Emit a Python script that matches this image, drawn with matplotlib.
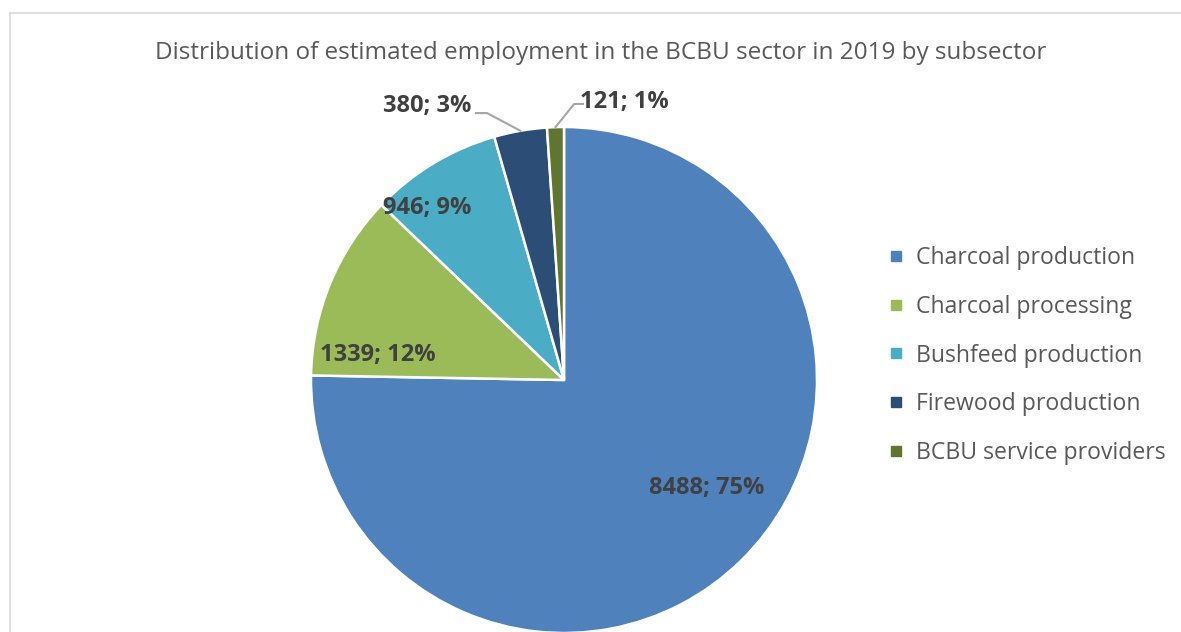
import numpy as np
import matplotlib
matplotlib.use('Agg')
from matplotlib import pyplot as plt
from matplotlib.lines import Line2D

plt.rcParams['font.family'] = ['Open Sans', 'DejaVu Sans']

# data
subsectors = ['Charcoal production', 'Charcoal processing', 'Bushfeed production',
              'Firewood production', 'BCBU service providers']
employment = [8488, 1339, 946, 380, 121]
percent_labels = ['75%', '12%', '9%', '3%', '1%']
colors = ['#4F81BD', '#9BBB59', '#4BACC6', '#2C4D75', '#5F7530']

# label placement (data coords of the pie, radius 1)
label_pos = [(0.565, -0.427), (-0.735, 0.099), (-0.542, 0.680), (-0.542, 1.083), (0.237, 1.099)]
# leader line: (start x, elbow x, elbow y)
leader = [None, None, None, (-0.348, -0.304, 1.055), (0.075, 0.040, 1.091)]

W, H = 1181, 632
fig = plt.figure(figsize=(W / 100, H / 100), dpi=100)

# outer chart border (light gray), only top and left visible
fig.add_artist(Line2D([10 / W, 1.01], [1 - 13 / H] * 2, color='#D9D9D9', lw=1.2))
fig.add_artist(Line2D([10 / W] * 2, [-0.01, 1 - 13 / H], color='#D9D9D9', lw=1.2))

cx, cy, r = 564, 380, 253
ax = fig.add_axes([(cx - r) / W, (H - cy - r) / H, 2 * r / W, 2 * r / H])

wedges, _ = ax.pie(employment, colors=colors, startangle=90, counterclock=False,
                   radius=1, wedgeprops=dict(edgecolor='white', linewidth=1.8))
ax.set_xlim(-1, 1)
ax.set_ylim(-1, 1)
ax.axis('off')

total = sum(employment)
cum = np.cumsum(employment) - np.array(employment) / 2
for i, (v, p) in enumerate(zip(employment, percent_labels)):
    lx, ly = label_pos[i]
    ax.text(lx, ly, f'{v}; {p}', ha='center', va='center', fontsize=17,
            fontweight='bold', color='#404040', clip_on=False)
    if leader[i] is not None:
        ang = np.deg2rad(90 - 360 * cum[i] / total)
        ex, ey = np.cos(ang), np.sin(ang)
        sx, bx, by = leader[i]
        ax.plot([sx, bx, ex], [by, by, ey], color='#A6A6A6', lw=1.5, clip_on=False)

fig.text(0.5 * (152 + 1049) / W, 1 - 53 / H,
         'Distribution of estimated employment in the BCBU sector in 2019 by subsector',
         ha='center', va='center', fontsize=17.5, color='#595959')

handles = [Line2D([], [], marker='s', linestyle='none', markersize=7.5,
                  markerfacecolor=c, markeredgecolor=c) for c in colors]
fig.legend(handles, subsectors, loc='center left', bbox_to_anchor=(889 / W, 1 - 355.5 / H),
           bbox_transform=fig.transFigure, frameon=False, fontsize=16.6,
           labelcolor='#595959', handlelength=0.6, handletextpad=0.55,
           labelspacing=1.08, borderpad=0, borderaxespad=0)

fig.savefig('out.png', dpi=100)
